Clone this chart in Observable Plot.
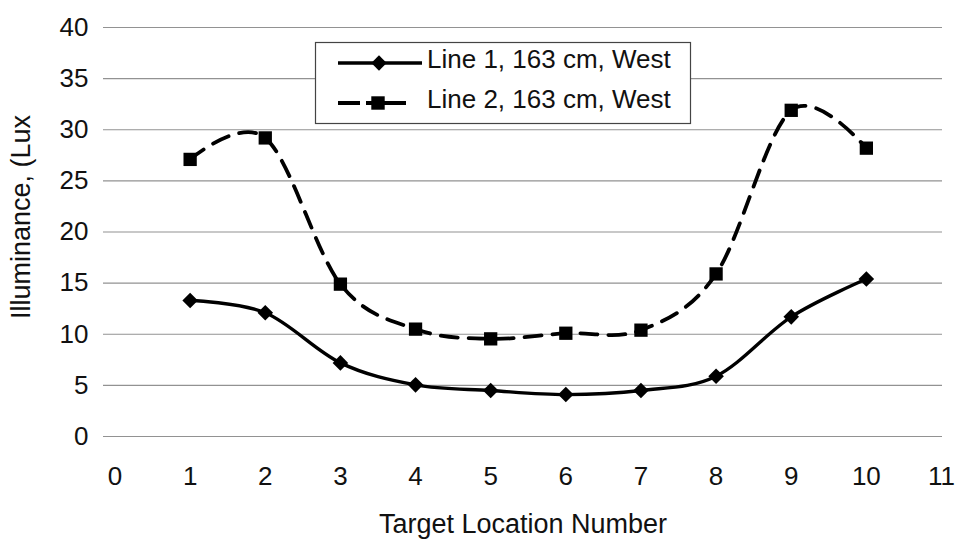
<!DOCTYPE html>
<html>
<head>
<meta charset="utf-8">
<script src="https://cdn.jsdelivr.net/npm/d3@7"></script>
<script src="https://cdn.jsdelivr.net/npm/@observablehq/plot@0.6"></script>
<style>
  html, body { margin: 0; padding: 0; background: #fff; }
  #chart { width: 955px; height: 544px; }
</style>
</head>
<body>
<div id="chart"></div>
<script>
const locations = [1, 2, 3, 4, 5, 6, 7, 8, 9, 10];
const line1 = [13.3, 12.1, 7.2, 5.05, 4.5, 4.1, 4.5, 5.9, 11.7, 15.4];
const line2 = [27.1, 29.2, 14.9, 10.5, 9.55, 10.1, 10.4, 15.9, 31.9, 28.2];
const seriesNames = ["Line 1, 163 cm, West", "Line 2, 163 cm, West"];
const xTicks = [0, 1, 2, 3, 4, 5, 6, 7, 8, 9, 10, 11];
const yTicks = [0, 5, 10, 15, 20, 25, 30, 35, 40];
const xTitle = "Target Location Number";
const yTitle = "Illuminance, (Lux";

const d1 = locations.map((x, i) => ({x, y: line1[i]}));
const d2 = locations.map((x, i) => ({x, y: line2[i]}));

const font = "'Liberation Sans', Arial, sans-serif";

const chart = Plot.plot({
  width: 955,
  height: 544,
  marginLeft: 103,
  marginRight: 13,
  marginTop: 27,
  marginBottom: 108,
  style: {fontFamily: font, fontSize: "26px", background: "#fff", color: "#111"},
  x: {domain: [0, 11], insetLeft: 11.5, insetRight: 1, axis: null},
  y: {domain: [0, 40], axis: null},
  marks: [
    Plot.ruleY(yTicks, {stroke: "#777", strokeWidth: 1.2, strokeOpacity: 0.8}),
    Plot.line(d2, {x: "x", y: "y", curve: "cardinal", tension: 0, stroke: "#000", strokeWidth: 3.8, strokeDasharray: "17,11"}),
    Plot.dot(d2, {x: "x", y: "y", symbol: "square", r: 7.5, fill: "#000", stroke: "none"}),
    Plot.line(d1, {x: "x", y: "y", curve: "cardinal", tension: 0, stroke: "#000", strokeWidth: 3.4}),
    Plot.dot(d1, {x: "x", y: "y", symbol: "diamond2", r: 7, fill: "#000", stroke: "none"}),
    Plot.text(xTicks, {x: d => d, text: d => String(d), frameAnchor: "bottom", dy: 40, lineAnchor: "middle", textAnchor: "middle", fontSize: 26, fill: "#111"}),
    Plot.text(yTicks, {y: d => d, text: d => String(d), frameAnchor: "left", dx: -15, lineAnchor: "middle", textAnchor: "end", fontSize: 26, fill: "#111"}),
    Plot.text([xTitle], {frameAnchor: "bottom", dy: 88, fontSize: 27, fill: "#111", lineAnchor: "middle", textAnchor: "middle"}),
    Plot.text([yTitle], {frameAnchor: "left", dx: -82, dy: -15, rotate: -90, fontSize: 27, fill: "#111", lineAnchor: "middle", textAnchor: "middle"})
  ]
});

document.getElementById("chart").appendChild(chart);

// Legend
const svg = d3.select(chart);
const lg = svg.append("g").attr("font-family", font).attr("text-anchor", "start");
lg.append("rect").attr("x", 315.5).attr("y", 42.5).attr("width", 375).attr("height", 81)
  .attr("fill", "#fff").attr("stroke", "#444").attr("stroke-width", 1.2);
const rows = [
  {y: 63, dash: null, sym: d3.symbolDiamond2, name: seriesNames[0], size: 150, x2: 422, mx: 379},
  {y: 103, dash: "22,6,40,6", sym: d3.symbolSquare, name: seriesNames[1], size: 180, x2: 410, mx: 378}
];
rows.forEach(r => {
  lg.append("line").attr("x1", 338).attr("x2", r.x2).attr("y1", r.y).attr("y2", r.y)
    .attr("stroke", "#000").attr("stroke-width", r.dash ? 3.8 : 3.4)
    .attr("stroke-dasharray", r.dash || null);
  lg.append("path").attr("d", d3.symbol(r.sym, r.size)()).attr("transform", `translate(${r.mx},${r.y})`).attr("fill", "#000");
  lg.append("text").attr("x", 427).attr("y", r.y - 4).attr("dy", "0.35em")
    .style("font-size", "26px").attr("fill", "#111").text(r.name);
});
</script>
</body>
</html>
